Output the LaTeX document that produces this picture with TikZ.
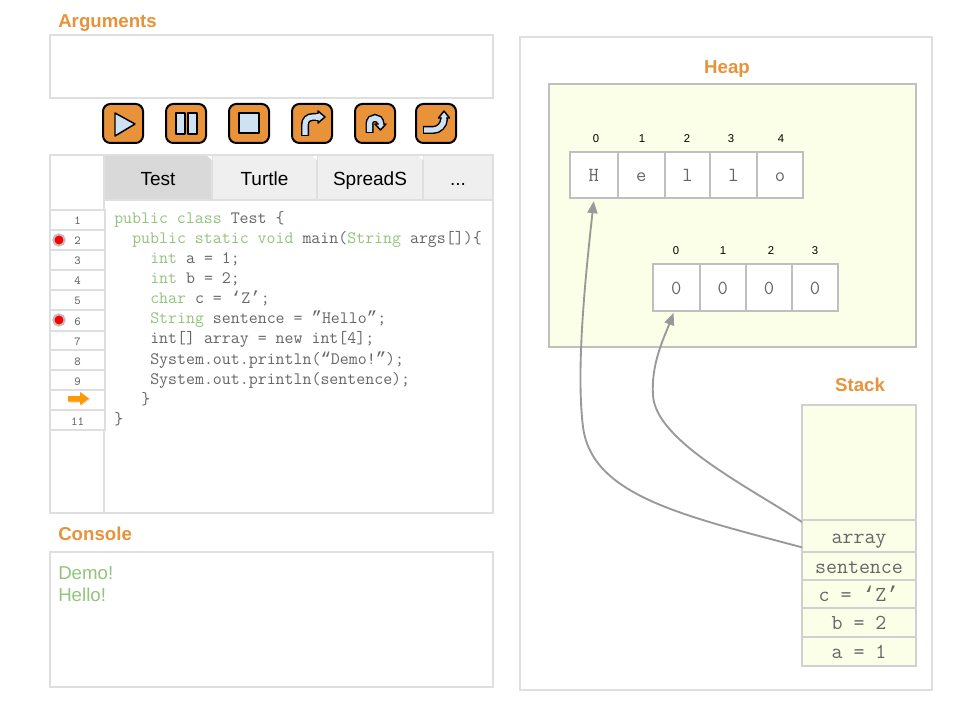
\documentclass[tikz,border=0pt]{standalone}
\usepackage{fontspec}
\setmainfont{Liberation Sans}
\newfontfamily\qf{Liberation Mono}
\usetikzlibrary{arrows.meta}
\definecolor{hd}{HTML}{E8923A}
\definecolor{bd}{HTML}{DFDFDF}
\definecolor{tabdark}{HTML}{D9D9D9}
\definecolor{tablight}{HTML}{EFEFEF}
\definecolor{cellbd}{HTML}{BFBFBF}
\definecolor{stbd}{HTML}{D0D0D0}
\definecolor{ylw}{HTML}{FBFFE7}
\definecolor{kw}{HTML}{93C47D}
\definecolor{codetx}{HTML}{666666}
\definecolor{ic}{HTML}{CFE2F3}
\definecolor{conn}{HTML}{999999}
\definecolor{pointer}{HTML}{FF9900}
\newcommand{\bx}[6]{\node[#1,minimum width={(#4-#2)*0.75pt},minimum height={(#5-#3)*0.75pt}] at ({(#2+#4)/2},{(#3+#5)/2}) #6;}
\newcommand{\kwd}[1]{\textcolor{kw}{#1}}
\newcommand{\qlsingle}{{\qf ‘}}
\newcommand{\qrsingle}{{\qf ’}}
\newcommand{\qldouble}{{\qf “}}
\newcommand{\qrdouble}{{\qf ”}}
\tikzset{
  base/.style={inner sep=0pt,outer sep=0pt,rectangle},
  panel/.style={base,draw=bd,line width=1.5pt,fill=white},
  heading/.style={inner sep=0pt,text=hd,font=\fontsize{14}{16}\selectfont\bfseries},
  tabbox/.style={base,fill=#1,draw=bd,line width=0.9pt,font=\fontsize{14.25}{16}\selectfont,text=black,text height=12pt,text depth=0pt},
  linebox/.style={base,draw=bd,line width=1.5pt,fill=white,text=codetx,font=\ttfamily\fontsize{9.2}{10}\selectfont,text height=7.5pt,text depth=0pt},
  codeline/.style={anchor=base west,inner sep=0pt,text=codetx,font=\ttfamily\fontsize{13.05}{14}\selectfont},
  cellbox/.style={base,draw=cellbd,line width=1.5pt,fill=white,text=codetx,font=\ttfamily\fontsize{15}{16}\selectfont,text height=9.5pt,text depth=0pt},
  idx/.style={inner sep=0pt,text=black,font=\fontsize{8.5}{10}\selectfont},
  stackbox/.style={base,draw=stbd,line width=1.5pt,fill=ylw,text=codetx,font=\ttfamily\fontsize{16}{17}\selectfont,text height=11pt,text depth=0pt},
  btn/.style={base,draw=black,line width=1.5pt,fill=hd,rounded corners=5.5pt},
  glyph/.style={draw=black,line width=1.1pt,fill=ic,line join=round},
  shaftout/.style={draw=black,line width=6pt,line cap=butt},
  shaftin/.style={draw=ic,line width=3.8pt,line cap=butt},
  bpoint/.style={circle,inner sep=0pt,minimum size=8.5pt,fill=red,draw=black!25,line width=1.5pt},
  link/.style={draw=conn,line width=1.4pt,-{Stealth[length=9pt,width=7.5pt,inset=0pt]}},
}
\begin{document}
\begin{tikzpicture}[x=0.75pt,y=-0.75pt]
\useasboundingbox (0,0) rectangle (960,720);
\fill[white] (0,0) rectangle (960,720);
% left column
\node[heading,anchor=base west] (arglabel) at (58,28) {Arguments};
\bx{panel}{50}{35}{493}{98}{(args) {}}
\bx{btn}{103}{104}{143}{143}{(b1) {}}
\bx{btn}{166}{104}{206}{143}{(b2) {}}
\bx{btn}{229}{104}{269}{143}{(b3) {}}
\bx{btn}{292}{104}{332}{143}{(b4) {}}
\bx{btn}{355}{104}{395}{143}{(b5) {}}
\bx{btn}{416}{104}{456}{143}{(b6) {}}
\draw[glyph] (115,113) -- (135,124) -- (115,136) -- cycle;
\draw[glyph] (176,113) rectangle (185,134);
\draw[glyph] (188,113) rectangle (197,134);
\draw[glyph] (239,113) rectangle (259,133);
% step over
\draw[shaftout] (305,136) -- (305,125) .. controls (305,120) and (308,117) .. (313,117) -- (318,117);
\draw[shaftin] (305,135) -- (305,125) .. controls (305,120) and (308,117) .. (313,117) -- (319,117);
\draw[glyph] (318,111) -- (325,117) -- (318,123) -- cycle;
\draw[draw=ic,line width=3.8pt] (316,117) -- (319.5,117);
% step back
\draw[shaftout] (369.5,133) -- (369.5,124) .. controls (369.5,120) and (372,118) .. (375,118) .. controls (378,118) and (380.5,120) .. (380.5,124) -- (380.5,125);
\draw[shaftin] (369.5,132) -- (369.5,124) .. controls (369.5,120) and (372,118) .. (375,118) .. controls (378,118) and (380.5,120) .. (380.5,124) -- (380.5,126);
\draw[glyph] (375,124) -- (380.5,130) -- (386,124) -- cycle;
\draw[draw=ic,line width=3pt] (380.5,122) -- (380.5,126);
% step out
\draw[shaftout] (423,130) -- (433,130) .. controls (439,130) and (444,125) .. (444,119) -- (444,117);
\draw[shaftin] (424,130) -- (433,130) .. controls (439,130) and (444,125) .. (444,119) -- (444,116);
\draw[glyph] (438.5,118) -- (444,111) -- (449.5,118) -- cycle;
\draw[draw=ic,line width=3pt] (444,115.5) -- (444,120);
% editor
\bx{panel}{50}{155}{493}{513}{(editor) {}}
\bx{panel}{50}{155}{104}{513}{(gutter) {}}
\bx{tabbox=tabdark}{104}{155}{212}{200}{(t1) {Test}}
\bx{tabbox=tablight}{212}{155}{317}{200}{(t2) {Turtle}}
\bx{tabbox=tablight}{317}{155}{423}{200}{(t3) {SpreadS}}
\bx{tabbox=tablight}{423}{155}{493}{200}{(t4) {...}}
\fill[white] (206,155) -- (212,155) -- (212,160) -- cycle;
\fill[white] (311,155) -- (317,155) -- (317,160) -- cycle;
\fill[white] (417,155) -- (423,155) -- (423,160) -- cycle;
\draw[bd,line width=1.5pt] (50,155) -- (493,155);
\bx{linebox}{50}{210}{105}{230}{(l1) {1}}
\bx{linebox}{50}{230}{105}{250}{(l2) {2}}
\bx{linebox}{50}{250}{105}{270}{(l3) {3}}
\bx{linebox}{50}{270}{105}{290}{(l4) {4}}
\bx{linebox}{50}{290}{105}{310}{(l5) {5}}
\bx{linebox}{50}{310}{105}{331}{(l6) {6}}
\bx{linebox}{50}{331}{105}{350}{(l7) {7}}
\bx{linebox}{50}{350}{105}{370}{(l8) {8}}
\bx{linebox}{50}{370}{105}{390}{(l9) {9}}
\bx{linebox}{50}{390}{105}{410}{(l10) {}}
\bx{linebox}{50}{410}{105}{430}{(l11) {11}}
\node[bpoint] (bp1) at (59,240) {};
\node[bpoint] (bp2) at (59,320) {};
\fill[black!15] (69,396.5) -- (81,396.5) -- (81,392.5) -- (90,399.5) -- (81,406) -- (81,402.5) -- (69,402.5) -- cycle;
\fill[pointer] (68,396) -- (80,396) -- (80,392) -- (89,398.5) -- (80,405) -- (80,401.5) -- (68,401.5) -- cycle;
\node[codeline] (c1) at (114,224) {\kwd{public class} Test \{};
\node[codeline] (c2) at (132,244) {\kwd{public static void} main(\kwd{String} args[])\{};
\node[codeline] (c3) at (150,264) {\kwd{int} a = 1;};
\node[codeline] (c4) at (150,284) {\kwd{int} b = 2;};
\node[codeline] (c5) at (150,304) {\kwd{char} c = \qlsingle Z\qrsingle;};
\node[codeline] (c6) at (150,324) {\kwd{String} sentence = \qrdouble Hello\qrdouble;};
\node[codeline] (c7) at (150,344) {int[] array = new int[4];};
\node[codeline] (c8) at (150,364) {System.out.println(\qldouble Demo!\qrdouble);};
\node[codeline] (c9) at (150,384) {System.out.println(sentence);};
\node[codeline] (c10) at (141,404) {\}};
\node[codeline] (c11) at (114,424) {\}};
% console
\node[heading,anchor=base west] (conlabel) at (58,540) {Console};
\bx{panel}{50}{552}{493}{687}{(console) {}}
\node[anchor=base west,inner sep=0pt,text=kw,font=\fontsize{14}{16}\selectfont] (o1) at (58,579) {Demo!};
\node[anchor=base west,inner sep=0pt,text=kw,font=\fontsize{14}{16}\selectfont] (o2) at (58,601) {Hello!};
% right panel
\bx{panel}{520}{37}{932}{690}{(mem) {}}
\node[heading,anchor=base] (heaplabel) at (727,74) {Heap};
\bx{base,draw=cellbd,line width=1.5pt,fill=ylw}{549}{84}{916}{347}{(heap) {}}
\foreach \n/\x in {0/596,1/642,2/687,3/731,4/781}{\node[idx] (hi\n) at (\x,138.5) {\n};}
\bx{cellbox}{570}{152}{617.5}{198.5}{(h0) {H}}
\bx{cellbox}{617.5}{152}{665}{198.5}{(h1) {e}}
\bx{cellbox}{665}{152}{710}{198.5}{(h2) {l}}
\bx{cellbox}{710}{152}{757}{198.5}{(h3) {l}}
\bx{cellbox}{757}{152}{803}{198.5}{(h4) {o}}
\foreach \n/\x in {0/676,1/723,2/771,3/815}{\node[idx] (zi\n) at (\x,251) {\n};}
\bx{cellbox}{653}{264.5}{699.5}{311}{(z0) {0}}
\bx{cellbox}{699.5}{264.5}{746}{311}{(z1) {0}}
\bx{cellbox}{746}{264.5}{792}{311}{(z2) {0}}
\bx{cellbox}{792}{264.5}{838}{311}{(z3) {0}}
\node[heading,anchor=base] (stacklabel) at (860,391) {Stack};
\bx{stackbox}{802}{405}{916}{520}{(stacktop) {}}
\bx{stackbox}{802}{520}{916}{552}{(sarray) {array}}
\bx{stackbox}{802}{552}{916}{580}{(ssent) {sentence}}
\bx{stackbox}{802}{580}{916}{608}{(sc) {c = \qlsingle Z\qrsingle}}
\bx{stackbox}{802}{608}{916}{637}{(sb) {b = 2}}
\bx{stackbox}{802}{637}{916}{666}{(sa) {a = 1}}
% connectors
\draw[link] ([yshift=3.5pt]ssent.north west) .. controls (680,515) and (592,495) .. (583,427)
  .. controls (576,370) and (585,280) .. ([yshift=-2pt]h0.south);
\draw[link] ([yshift=-1.5pt]sarray.north west) .. controls (745,485) and (655,440) .. (653,395)
  .. controls (651,365) and (663,340) .. ([xshift=-2pt,yshift=-1.5pt]z0.south);
\end{tikzpicture}
\end{document}
